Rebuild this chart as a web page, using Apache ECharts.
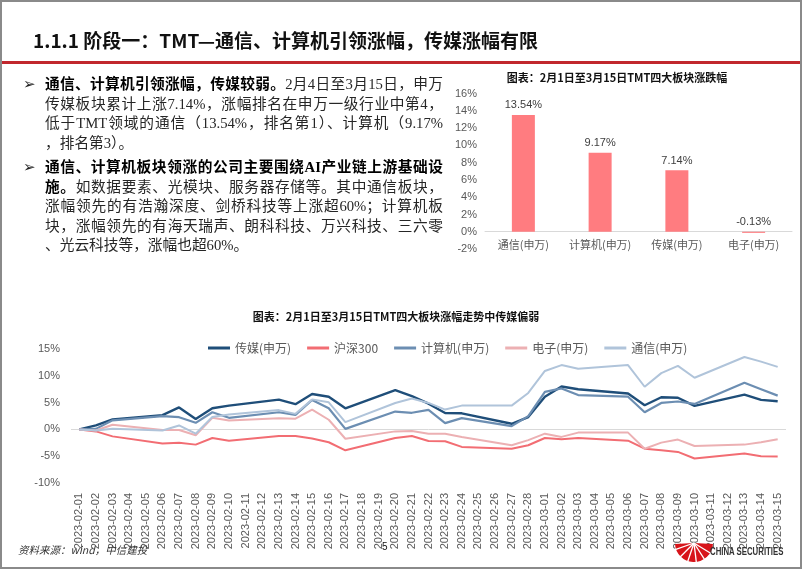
<!DOCTYPE html>
<html><head><meta charset="utf-8">
<script src="https://cdn.jsdelivr.net/npm/echarts/dist/echarts.min.js"></script>
<style>
html,body{margin:0;padding:0;background:#fff;}
#page{position:relative;width:802px;height:569px;overflow:hidden;background:#fff;box-sizing:border-box;border:2px solid #8a8a8a;}
#chart{position:absolute;left:0;top:0;width:802px;height:569px;}
.ov{position:absolute;z-index:5;white-space:nowrap;}
#title{left:31px;top:25px;font-family:"Noto Sans CJK SC",sans-serif;font-weight:bold;font-size:19px;color:#111;line-height:26px;}
#redline{left:0;top:59px;width:802px;height:3px;background:#C1272D;}
.para{position:absolute;left:43px;width:398px;z-index:5;font-family:"Liberation Serif","Noto Sans CJK SC",serif;font-size:14.7px;color:#262626;}
.ln{height:19.5px;line-height:19.5px;text-align:justify;text-align-last:justify;white-space:normal;overflow:hidden;}
.ln.last{text-align:left;text-align-last:left;}
b{color:#000;}
.bul{position:absolute;left:21px;z-index:5;font-family:"DejaVu Sans";font-size:15px;color:#222;line-height:19.5px;}
.ctitle{font-family:"Noto Sans CJK SC",serif;font-weight:bold;font-size:11px;color:#111;transform:translateX(-50%);}
#src{left:16px;top:540px;font-family:"Noto Sans CJK SC",sans-serif;font-style:italic;font-size:10.5px;color:#333;}
#pno{left:380px;top:539px;font-family:"Liberation Sans",sans-serif;font-size:10px;color:#111;}
#logo{left:708px;top:544px;font-family:"Liberation Sans",sans-serif;font-weight:bold;font-size:10px;color:#333;transform:scaleX(0.78);transform-origin:left center;}
</style></head>
<body>
<div id="page">
<div id="chart"></div>
<div class="ov" id="title">1.1.1 阶段一：TMT—通信、计算机引领涨幅，传媒涨幅有限</div>
<div class="ov" id="redline"></div>
<div class="bul" style="top:73px">➢</div>
<div class="para" style="top:73px">
<div class="ln"><b>通信、计算机引领涨幅，传媒较弱。</b>2月4日至3月15日，申万</div>
<div class="ln">传媒板块累计上涨7.14%，涨幅排名在申万一级行业中第4，</div>
<div class="ln">低于TMT领域的通信（13.54%，排名第1）、计算机（9.17%</div>
<div class="ln last">，排名第3）。</div>
</div>
<div class="bul" style="top:156px">➢</div>
<div class="para" style="top:156px">
<div class="ln"><b>通信、计算机板块领涨的公司主要围绕AI产业链上游基础设</b></div>
<div class="ln"><b>施。</b>如数据要素、光模块、服务器存储等。其中通信板块，</div>
<div class="ln">涨幅领先的有浩瀚深度、剑桥科技等上涨超60%；计算机板</div>
<div class="ln">块，涨幅领先的有海天瑞声、朗科科技、万兴科技、三六零</div>
<div class="ln last">、光云科技等，涨幅也超60%。</div>
</div>
<div class="ov ctitle" style="left:615px;top:67px;">图表：2月1日至3月15日TMT四大板块涨跌幅</div>
<div class="ov ctitle" style="left:394px;top:306px;">图表：2月1日至3月15日TMT四大板块涨幅走势中传媒偏弱</div>
<div class="ov" id="src">资料来源：wind，中信建投</div>
<div class="ov" id="pno">5</div>
<div class="ov" id="logo">CHINA SECURITIES</div>
</div>
<script>
// ---- bar chart data ----
const barCategories = ['通信(申万)', '计算机(申万)', '传媒(申万)', '电子(申万)'];
const barValues = [13.54, 9.17, 7.14, -0.13];

// ---- line chart categories (every calendar day) ----
const dates = ['2023-02-01','2023-02-02','2023-02-03','2023-02-04','2023-02-05','2023-02-06','2023-02-07','2023-02-08','2023-02-09','2023-02-10',
'2023-02-11','2023-02-12','2023-02-13','2023-02-14','2023-02-15','2023-02-16','2023-02-17','2023-02-18','2023-02-19','2023-02-20',
'2023-02-21','2023-02-22','2023-02-23','2023-02-24','2023-02-25','2023-02-26','2023-02-27','2023-02-28','2023-03-01','2023-03-02',
'2023-03-03','2023-03-04','2023-03-05','2023-03-06','2023-03-07','2023-03-08','2023-03-09','2023-03-10','2023-03-11','2023-03-12',
'2023-03-13','2023-03-14','2023-03-15'];

// trading days on which values exist
const tradeDays = ['2023-02-01','2023-02-02','2023-02-03','2023-02-06','2023-02-07','2023-02-08','2023-02-09','2023-02-10',
'2023-02-13','2023-02-14','2023-02-15','2023-02-16','2023-02-17','2023-02-20','2023-02-21','2023-02-22','2023-02-23','2023-02-24',
'2023-02-27','2023-02-28','2023-03-01','2023-03-02','2023-03-03','2023-03-06','2023-03-07','2023-03-08','2023-03-09','2023-03-10',
'2023-03-13','2023-03-14','2023-03-15'];

const media = [0, 0.75, 1.85, 2.65, 4.1, 1.96, 3.95, 4.44, 5.56, 4.7, 6.6, 6.1, 3.94, 7.33, 6.2, 4.8, 3.05, 3.0, 1.05, 2.3, 6.1, 8.0, 7.5, 6.7, 4.5, 6.0, 5.9, 4.4, 6.5, 5.5, 5.25];
const hs300 = [0, -0.37, -1.3, -2.65, -2.5, -2.84, -1.6, -2.1, -1.24, -1.24, -1.7, -2.4, -3.9, -1.6, -1.23, -2.16, -2.2, -3.27, -3.6, -2.96, -1.6, -1.85, -1.6, -2.1, -3.6, -3.9, -4.2, -5.43, -4.5, -5.0, -5.06];
const computer = [0, 0.1, 1.7, 2.47, 2.28, 1.23, 3.2, 2.16, 3.2, 2.7, 5.5, 3.94, 0.1, 3.33, 3.1, 3.64, 1.17, 2.1, 0.62, 2.47, 7.0, 7.65, 6.4, 6.1, 3.2, 4.94, 5.2, 4.75, 8.7, 7.5, 6.3];
const electronics = [0, -0.2, 0.86, -0.1, -0.1, -1.1, 2.16, 1.65, 2.1, 2.0, 3.7, 1.8, -1.74, -0.37, -0.3, -0.8, -0.8, -1.4, -2.96, -2.0, -0.8, -1.4, -0.6, -0.6, -3.6, -2.47, -1.9, -3.1, -2.84, -2.4, -1.85];
const telecom = [0, -0.2, 0.1, -0.2, 0.74, -0.8, 2.3, 2.8, 3.6, 2.9, 5.6, 5.06, 1.35, 4.93, 5.75, 4.94, 3.7, 4.44, 4.44, 6.8, 10.9, 12.0, 11.3, 12.0, 7.96, 10.5, 11.85, 9.63, 13.5, 12.65, 11.67];

const seriesNames = ['传媒(申万)', '沪深300', '计算机(申万)', '电子(申万)', '通信(申万)'];
const seriesData = [media, hs300, computer, electronics, telecom];
const seriesColors = ['#1F4E79', '#F26D73', '#6C8EB2', '#ECB0B3', '#B0C4DA'];
const seriesWidths = [2.4, 2, 2.2, 2, 2];

const pair = vals => tradeDays.map((d, i) => [d, vals[i]]);
const latin = '"Liberation Sans", Arial, sans-serif';
const cjk = '"Noto Sans CJK SC", sans-serif';

const chart = echarts.init(document.getElementById('chart'), null, {renderer: 'canvas'});

const lineSeries = seriesNames.map((n, i) => ({
  name: n, type: 'line', xAxisIndex: 1, yAxisIndex: 1,
  data: pair(seriesData[i]), symbol: 'none', smooth: false,
  lineStyle: {color: seriesColors[i], width: seriesWidths[i]},
  itemStyle: {color: seriesColors[i]},
  z: 3,
  markLine: i === 0 ? {silent: true, symbol: 'none', label: {show: false},
    lineStyle: {color: '#D9D9D9', width: 1, type: 'solid'}, data: [{yAxis: 0}], z: 1} : undefined
}));

const fanAngles = [0.55, 1.0, 1.45, 1.9, 2.35, 2.8];
const graphics = [{
  type: 'sector', shape: {cx: 692, cy: 541, r: 19, r0: 0, startAngle: 0.05, endAngle: Math.PI - 0.05},
  style: {fill: '#D7141A'}, z: 10
}].concat(fanAngles.map(a => ({
  type: 'line', shape: {x1: 692, y1: 541, x2: 692 + 20 * Math.cos(a), y2: 541 + 20 * Math.sin(a)},
  style: {stroke: '#fff', lineWidth: 1.3}, z: 11
})));

chart.setOption({
  animation: false,
  graphic: graphics,
  legend: {
    data: seriesNames, left: 201, top: 335, itemWidth: 22, itemHeight: 3, icon: 'rect', itemGap: 16,
    textStyle: {fontFamily: cjk, fontSize: 12, color: '#595959'}
  },
  grid: [
    {left: 483, right: 12, top: 91.7, bottom: 322, containLabel: false},
    {left: 69, right: 18, top: 347, bottom: 88, containLabel: false}
  ],
  xAxis: [
    {gridIndex: 0, type: 'category', data: barCategories,
      axisLine: {onZero: true, lineStyle: {color: '#D9D9D9'}}, axisTick: {show: false},
      axisLabel: {interval: 0, color: '#595959', fontFamily: cjk, fontSize: 11, margin: -10}},
    {gridIndex: 1, type: 'category', data: dates, boundaryGap: true,
      axisLine: {show: false}, axisTick: {show: false},
      axisLabel: {rotate: 90, interval: 0, color: '#595959', fontFamily: latin, fontSize: 11, margin: 10}}
  ],
  yAxis: [
    {gridIndex: 0, type: 'value', min: -2, max: 16, interval: 2,
      axisLine: {show: false}, axisTick: {show: false}, splitLine: {show: false},
      axisLabel: {formatter: '{value}%', color: '#595959', fontFamily: latin, fontSize: 11, margin: 8}},
    {gridIndex: 1, type: 'value', min: -10, max: 15, interval: 5,
      axisLine: {show: false}, axisTick: {show: false}, splitLine: {show: false},
      axisLabel: {formatter: '{value}%', color: '#595959', fontFamily: latin, fontSize: 11, margin: 11}}
  ],
  series: [{
    type: 'bar', xAxisIndex: 0, yAxisIndex: 0, data: barValues, barWidth: 23,
    itemStyle: {color: '#FF7C80'},
    label: {show: true, position: 'top', formatter: p => p.value.toFixed(2) + '%',
      color: '#404040', fontFamily: latin, fontSize: 11, distance: 4}
  }].concat(lineSeries)
});
</script>
</body></html>
